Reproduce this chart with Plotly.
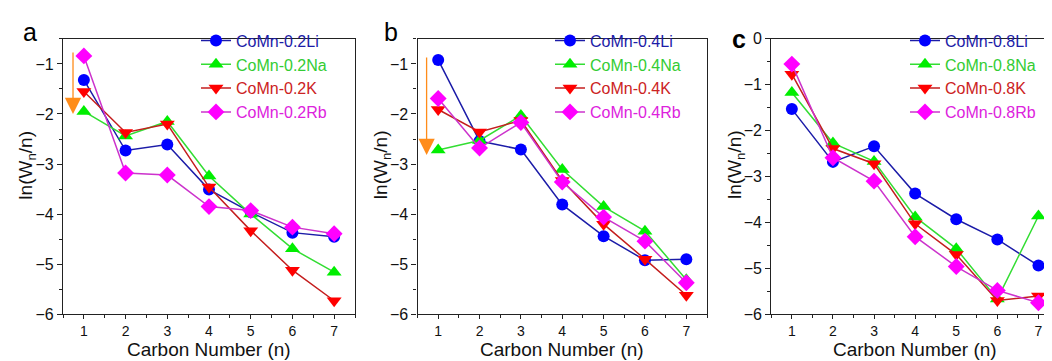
import plotly.graph_objects as go

carbon = [1, 2, 3, 4, 5, 6, 7]

a_li = [-1.32, -2.73, -2.61, -3.51, -3.96, -4.37, -4.45]
a_na = [-1.95, -2.44, -2.15, -3.24, -4.00, -4.69, -5.16]
a_k = [-1.55, -2.37, -2.20, -3.46, -4.33, -5.12, -5.73]
a_rb = [-0.84, -3.18, -3.22, -3.85, -3.93, -4.26, -4.39]

b_li = [-0.92, -2.54, -2.71, -3.81, -4.44, -4.92, -4.90]
b_na = [-2.72, -2.53, -2.03, -3.11, -3.85, -4.34, -5.31]
b_k = [-1.91, -2.36, -2.13, -3.33, -4.20, -4.90, -5.62]
b_rb = [-1.69, -2.68, -2.17, -3.36, -4.06, -4.54, -5.37]

c_li = [-1.53, -2.68, -2.34, -3.37, -3.93, -4.37, -4.94]
c_na = [-1.17, -2.27, -2.67, -3.88, -4.57, -5.67, -3.86]
c_k = [-0.77, -2.39, -2.72, -4.03, -4.70, -5.70, -5.60]
c_rb = [-0.55, -2.59, -3.10, -4.31, -4.96, -5.48, -5.75]

panels = [
    ("0.2", [a_li, a_na, a_k, a_rb]),
    ("0.4", [b_li, b_na, b_k, b_rb]),
    ("0.8", [c_li, c_na, c_k, c_rb]),
]
elements = ["Li", "Na", "K", "Rb"]
symbols = ["circle", "triangle-up", "triangle-down", "diamond"]
marker_colors = ["#0000ff", "#00ee00", "#ff0000", "#ff00ff"]
line_colors = ["#1c1ca8", "#33dd33", "#c41e1e", "#cc33cc"]
text_colors = ["#1c1ca8", "#33cc33", "#cc2222", "#dd22dd"]
marker_sizes = [12, 13, 13, 13]

W, H = 1052, 361
x_dom = [(55, 347), (409.5, 699), (763.3, 1051)]
y_dom = (1 - 313 / H, 1 - 24 / H)
y_ranges = [[-6, -0.5], [-6, -0.5], [-6, 0]]
legend_x = [188, 542, 897]

fig = go.Figure()
font_family = "Liberation Sans, Arial, sans-serif"

for p, (conc, series) in enumerate(panels):
    ax = "" if p == 0 else str(p + 1)
    leg = "legend" if p == 0 else "legend" + str(p + 1)
    for i, vals in enumerate(series):
        fig.add_trace(go.Scatter(
            x=carbon, y=vals, mode="lines+markers",
            name="<span style='color:%s'>CoMn-%s%s</span>" % (text_colors[i], conc, elements[i]),
            line=dict(color=line_colors[i], width=1.5),
            marker=dict(symbol=symbols[i], size=marker_sizes[i], color=marker_colors[i],
                        line=dict(width=0)),
            xaxis="x" + ax, yaxis="y" + ax, legend=leg,
        ))
    xd = (x_dom[p][0] / W, x_dom[p][1] / W)
    axis_common = dict(showline=True, linecolor="#222", linewidth=1.2, mirror=True,
                       ticks="outside", tickcolor="#222", tickwidth=1.2,
                       showgrid=False, zeroline=False)
    fig.update_layout(**{
        "xaxis" + ax: dict(domain=xd, range=[0.5, 7.5], dtick=1, tick0=1,
                           anchor="y" + ax, ticklen=4,
                           tickfont=dict(family=font_family, size=14, color="#111"),
                           minor=dict(ticks="outside", ticklen=3, dtick=0.5, tick0=0.5,
                                      tickcolor="#222"),
                           **axis_common),
        "yaxis" + ax: dict(domain=y_dom, range=y_ranges[p], dtick=1, tick0=0,
                           anchor="x" + ax, ticklen=5,
                           tickfont=dict(family=font_family, size=16, color="#111"),
                           minor=dict(ticks="outside", ticklen=3, dtick=0.5, tick0=0,
                                      tickcolor="#222"),
                           **axis_common),
        leg: dict(x=legend_x[p] / W, y=1 - 8 / H, xanchor="left", yanchor="top",
                  bgcolor="rgba(0,0,0,0)", borderwidth=0, tracegroupgap=0,
                  font=dict(family=font_family, size=16), itemwidth=30),
    })
    cx = (x_dom[p][0] + x_dom[p][1]) / 2 / W
    fig.add_annotation(text="Carbon Number (n)", x=cx, y=1 - 350 / H, xref="paper", yref="paper",
                       xanchor="center", yanchor="middle",
                       showarrow=False, font=dict(family=font_family, size=19, color="#111"))
    fig.add_annotation(text="ln(W<sub>n</sub>/n)", x=(x_dom[p][0] - 36) / W, y=1 - 156 / H,
                       xref="paper", yref="paper", textangle=-90, showarrow=False,
                       xanchor="center", yanchor="middle",
                       font=dict(family=font_family, size=19, color="#111"))

letters = [("a", 22, 17), ("b", 383, 17), ("<b>c</b>", 731, 24)]
for t, lx, ly in letters:
    fig.add_annotation(text=t, x=lx / W, y=1 - ly / H, xref="paper", yref="paper",
                       xanchor="center", yanchor="middle",
                       showarrow=False, font=dict(family=font_family, size=25, color="#000"))

# orange arrows (panels a and b)
fig.add_annotation(x=0.74, y=-2.0, ax=0.74, ay=-0.74, xref="x", yref="y", axref="x", ayref="y",
                   showarrow=True, arrowhead=2, arrowsize=2.5, arrowwidth=1.3,
                   arrowcolor="#ff8c1a", text="")
fig.add_annotation(x=0.72, y=-2.82, ax=0.72, ay=-0.84, xref="x2", yref="y2", axref="x2", ayref="y2",
                   showarrow=True, arrowhead=2, arrowsize=2.5, arrowwidth=1.3,
                   arrowcolor="#ff8c1a", text="")

fig.update_layout(width=W, height=H, margin=dict(l=0, r=0, t=0, b=0),
                  paper_bgcolor="white", plot_bgcolor="white", showlegend=True,
                  font=dict(family=font_family))

fig.write_html("out.html")
